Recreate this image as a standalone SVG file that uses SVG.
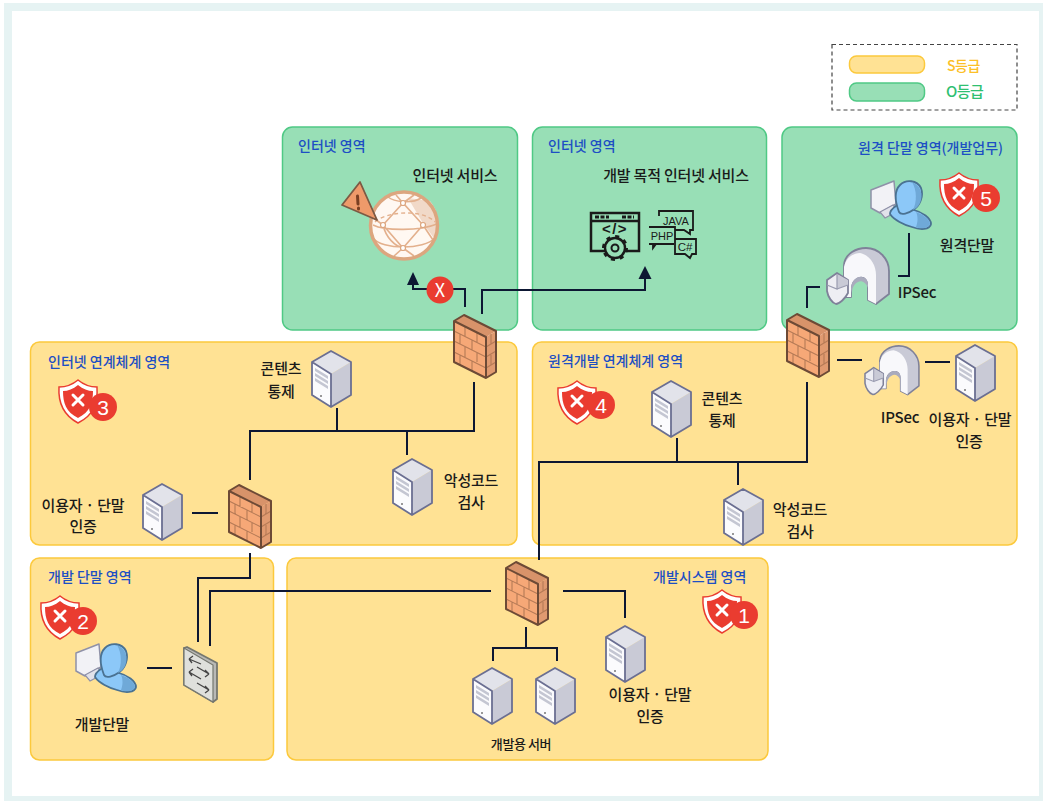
<svg xmlns="http://www.w3.org/2000/svg" width="1043" height="801" viewBox="0 0 1043 801">
<style>
text{font-family:"Noto Sans CJK KR","Noto Sans",sans-serif}
.g{fill:#98dfb6;stroke:#4fc985;stroke-width:1.5}
.y{fill:#ffe294;stroke:#fcc93c;stroke-width:1.5}
.t{font-size:14px;fill:#1d4fc4;font-weight:500;letter-spacing:0}
.l{font-size:15px;fill:#1a1a1a;font-weight:500;letter-spacing:-.2px;text-anchor:middle}
.c{fill:none;stroke:#0d1733;stroke-width:2}
.a{fill:#0d1733}
.b{fill:#ea3c30}
.n{font-size:21px;fill:#fff;text-anchor:middle;font-family:"Liberation Sans",sans-serif}
.k{fill:none;stroke:#1a1a1a;stroke-width:1.8}
.m{font-size:10.500px;fill:#1a1a1a;font-weight:500;text-anchor:middle;font-family:"Liberation Sans",sans-serif}
</style>
<defs>
<symbol id="fw" viewBox="0 0 44 66" width="44" height="66" overflow="visible">
<path d="M1 7L11 1L43 17L33 23Z" fill="#d8936a"/>
<path d="M1 7L33 23V64L1 48Z" fill="#f6a877"/>
<path d="M33 23L43 17V58L33 64Z" fill="#e09a70"/>
<path d="M1 17L33 33M1 27L33 43M1 38L33 54M33 33L43 27M33 43L43 37M33 54L43 48M12 13V23M24 19V28M7 20V30M19 26V36M12 33V43M24 39V48M7 41V51M19 47V57M38 20V30M38 41V51" fill="none" stroke="#b57a56" stroke-width="1.100"/>
<path d="M1 7L11 1L43 17V58L33 64L1 48ZM1 7L33 23V64" fill="none" stroke="#6d4a36" stroke-width="2" stroke-linejoin="round"/>
</symbol>
<symbol id="sv" viewBox="0 0 41 58" width="41" height="58" overflow="visible">
<path d="M1 12L20 1L40 12L20 24Z" fill="#e2e3ea"/>
<path d="M1 12L20 24V57L1 45Z" fill="#fbfbfd"/>
<path d="M20 24L40 12V45L20 57Z" fill="#c9cad6"/>
<path d="M1 12L20 1L40 12V45L20 57L1 45ZM1 12L20 24V57" fill="none" stroke="#6b6f92" stroke-width="1.800" stroke-linejoin="round"/>
<path d="M4 18L17 26V29L4 21ZM4 23L17 31V34L4 26ZM4 28L17 36V39L4 31Z" fill="#c4c6d2"/>
<circle cx="10" cy="46" r="1" fill="#777"/>
</symbol>
<symbol id="pc" viewBox="0 0 62 50" width="62" height="50" overflow="visible">
<path d="M1 10L24 1L26 24L10 33L1 28Z" fill="#f2f2f6" stroke="#8f91a8" stroke-width="1.500" stroke-linejoin="round"/>
<path d="M10 32L23 25L28 31L15 38Z" fill="#e1e2ea" stroke="#8f91a8" stroke-width="1.200"/>
<path d="M26 26C30 22 38 28 44 30C52 32 61 38 61 44C60 50 50 50 42 47C34 45 24 40 20 34C20 30 23 28 26 26Z" fill="#8cc8f8" stroke="#4a7292" stroke-width="1.800"/>
<path d="M46 32C52 34 60 39 60 44C58 49 50 49 46 47C48 42 48 36 46 32Z" fill="#6fa9d8"/>
<path d="M29 32C26 24 23 12 30 5C36 -1 47 0 51 8C54 16 50 26 43 30C39 33 31 36 29 32Z" fill="#8cc8f8" stroke="#4a7292" stroke-width="1.800"/>
<path d="M42 2C50 5 54 14 50 23C48 27 45 29 43 30C47 22 47 10 42 2Z" fill="#6fa9d8"/>
</symbol>
<symbol id="ip" viewBox="0 0 62 58" width="62" height="58" overflow="visible">
<path d="M17 50V18C18 6 30 1 39 1C52 1 62 12 62 24V47L49 57L41 53V38C41 32 37 29 33 30C27 31 24 36 24 42V50Z" fill="#c9cad6" stroke="#7f8199" stroke-width="1.800" stroke-linejoin="round"/>
<path d="M17 50V20C19 10 27 6 33 6C43 8 49 18 49 28V57L41 53V38C41 32 37 29 33 30C27 31 24 36 24 42V50Z" fill="#f8f8fb"/>
<path d="M24 42C24 34 30 29 35 30C40 31 41 35 41 38V41C39 35 34 33 31 35C27 37 25 41 25 46Z" fill="#a9abbd"/>
<path d="M0 33L10 26L21 33V46C18 52 12 57 9 57C5 56 1 50 0 44Z" fill="#eeeef3" stroke="#7f8199" stroke-width="1.800" stroke-linejoin="round"/>
<path d="M10 27L21 33V38L10 42Z" fill="#c9cad6"/>
<path d="M10 27V42L0 38M10 42L21 38" fill="none" stroke="#9a9cb0" stroke-width="1.200"/>
</symbol>
<symbol id="sh" viewBox="0 0 40 44" width="40" height="44" overflow="visible">
<path d="M20 1C26 6 33 8 39 8C40 24 36 36 20 44C5 36 0 24 1 8C8 8 14 6 20 1Z" fill="#fff" stroke="#ea3c30" stroke-width="1.500"/>
<path d="M20 6C25 10 30 12 35 12C35 24 32 33 20 39C8 33 5 24 5 12C10 12 15 10 20 6Z" fill="#ea3c30"/>
<path d="M15 16L25 26M25 16L15 26" stroke="#fff" stroke-width="3" stroke-linecap="round"/>
</symbol>
</defs>
<rect width="1043" height="801" fill="#fff"/>
<rect x="4" y="3" width="1039" height="798" fill="#e6f3f3"/>
<rect x="12" y="11" width="1027" height="785" fill="#fff"/>
<g id="legend">
<rect x="832" y="44.500" width="185" height="65.500" fill="#fff" stroke="#444" stroke-width="1.200" stroke-dasharray="4 3"/>
<rect class="y" x="849.500" y="56" width="75" height="17" rx="7"/>
<rect class="g" x="849.500" y="83" width="75" height="18" rx="7"/>
<text x="947" y="71" font-size="14" font-weight="500" fill="#fcc028" letter-spacing="-.5">S등급</text>
<text x="946" y="97" font-size="15" font-weight="500" fill="#2fc071" letter-spacing="-.5">O등급</text>
</g>
<g id="zones">
<g id="zone-internet-1"><rect class="g" x="282.500" y="127" width="235" height="203" rx="10"/><text class="t" x="298" y="151">인터넷 영역</text></g>
<g id="zone-internet-2"><rect class="g" x="532.500" y="127" width="234" height="203" rx="10"/><text class="t" x="548" y="151">인터넷 영역</text></g>
<g id="zone-remote"><rect class="g" x="782" y="127" width="235" height="203" rx="10"/><text class="t" x="858" y="153">원격 단말 영역(개발업무)</text></g>
<g id="zone-inet-link"><rect class="y" x="30.500" y="342" width="486.500" height="203" rx="9"/><text class="t" x="48" y="367">인터넷 연계체계 영역</text></g>
<g id="zone-remote-link"><rect class="y" x="532.500" y="342" width="484.500" height="203" rx="9"/><text class="t" x="548" y="366">원격개발 연계체계 영역</text></g>
<g id="zone-dev-terminal"><rect class="y" x="30.500" y="558" width="243" height="202" rx="9"/><text class="t" x="48" y="582">개발 단말 영역</text></g>
<g id="zone-dev-system"><rect class="y" x="287" y="558" width="481" height="202" rx="9"/><text class="t" x="653" y="582">개발시스템 영역</text></g>
</g>
<g id="connectors">
<path class="c" d="M465 307V289H413V284"/>
<path class="a" d="M413 272L419 285H407Z"/>
<path class="c" d="M482 314V290H645V277"/>
<path class="a" d="M645 266L651.500 279H638.500Z"/>
<path class="c" d="M807 308V287H820"/>
<path class="c" d="M909 233V276H898"/>
<path class="c" d="M837 360H862M925 362H950"/>
<path class="c" d="M807 382V462H539V560M677 438V462M738 462V485"/>
<path class="c" d="M250 480V431H474V382M337 408V431M407 431V455"/>
<path class="c" d="M192 513H218"/>
<path class="c" d="M250 553V578H198V642"/>
<path class="c" d="M210 646V591H491"/>
<path class="c" d="M147 668H172"/>
<path class="c" d="M563 591H625V618"/>
<path class="c" d="M526 627V648M493 661V648H557V661"/>
</g>
<g id="blocked-mark"><circle class="b" cx="440" cy="290" r="13.500"/><text x="440" y="296.500" font-size="18" fill="#fff" text-anchor="middle" font-family="Liberation Sans, sans-serif">X</text></g>
<g id="internet-service">
<circle cx="404" cy="225.500" r="33.500" fill="#fff8f2"/>
<path d="M408 198L430 201C436 208 438 216 438 226C438 232 436 236 434 238L424 225Z" fill="#f1d9c8"/>
<path d="M373 225C385 231 420 231 437 224M383 225L403 203L423 225L403 248ZM388 197C394 202 412 204 421 198M383 225C386 238 395 246 403 248M373 238C382 250 424 250 435 238M383 225L372 217M403 203L396 195M403 203L414 195M403 248L394 256M403 248L414 256M423 225L433 240" fill="none" stroke="#e3b08d" stroke-width="1.600"/>
<path d="M375 222C385 212 422 208 435 222" fill="none" stroke="#e3b08d" stroke-width="1.400" stroke-dasharray="4 3"/>
<circle cx="404" cy="225.500" r="33.500" fill="none" stroke="#dca67f" stroke-width="3.500"/>
<g fill="#fff" stroke="#dca67f" stroke-width="1.200"><circle cx="403" cy="203" r="2.500"/><circle cx="383" cy="225" r="2.500"/><circle cx="423" cy="225" r="2.500"/><circle cx="403" cy="248" r="2.500"/></g>
<path d="M360 182L342 205L377 220Z" fill="#ef9a6a" stroke="#7d5a44" stroke-width="1.800" stroke-linejoin="round"/>
<path d="M357.500 196L358 204M358.500 208V209" stroke="#7a3f22" stroke-width="3" stroke-linecap="round"/>
<text class="l" x="455" y="181">인터넷 서비스</text>
</g>
<g id="dev-internet-service">
<text class="l" x="676" y="181">개발 목적 인터넷 서비스</text>
<path d="M591 213H639V251H591Z" fill="none" stroke="#1a1a1a" stroke-width="2.500"/>
<path d="M591 221H639" stroke="#1a1a1a" stroke-width="2.500"/>
<path d="M595 217H609M622 217H634" stroke="#1a1a1a" stroke-width="3" stroke-dasharray="4 1.500"/>
<text class="m" x="615" y="234" style="font-size:15px;font-weight:700;letter-spacing:1.500px">&lt;/&gt;</text>
<circle cx="615" cy="248" r="10" fill="#98dfb6" stroke="#1a1a1a" stroke-width="2.400"/>
<circle cx="615" cy="248" r="11.500" fill="none" stroke="#1a1a1a" stroke-width="3" stroke-dasharray="4 5"/>
<circle cx="615" cy="248" r="3.500" fill="none" stroke="#1a1a1a" stroke-width="2"/>
<path class="k" d="M659 216V211H693V230H690V234L684 230H675" stroke-width="1.600"/>
<text class="m" x="676" y="225" style="font-size:11px">JAVA</text>
<path class="k" d="M649 227H675V238M674 244H656L653 248V244H649Z" stroke-width="1.600"/>
<text class="m" x="662" y="240" style="font-size:11px">PHP</text>
<path class="k" d="M675 239H696V254H692L690 258L685 254H675Z" stroke-width="1.600"/>
<text class="m" x="685" y="251" style="font-size:11.500px">C#</text>
</g>
<g id="fw-internet"><use href="#fw" x="453" y="314"/></g>
<g id="fw-remote"><use href="#fw" x="786" y="313"/></g>
<g id="fw-inet-link"><use href="#fw" x="228" y="484"/></g>
<g id="fw-dev"><use href="#fw" x="505" y="561"/></g>
<g id="remote-terminal"><use href="#pc" x="870" y="180"/><text class="l" x="967" y="251">원격단말</text></g>
<g id="ipsec-1"><use href="#ip" x="827" y="247"/><text class="l" x="917" y="298">IPSec</text></g>
<g id="ipsec-2"><g transform="translate(865 345) scale(.87)"><use href="#ip"/></g><text class="l" x="900" y="423">IPSec</text></g>
<g id="auth-remote"><use href="#sv" x="955" y="344"/><text class="l" x="970" y="425">이용자 · 단말</text><text class="l" x="969" y="447">인증</text></g>
<g id="content-left"><use href="#sv" x="311" y="350"/><text class="l" x="281" y="374">콘텐츠</text><text class="l" x="281" y="397">통제</text></g>
<g id="malware-left"><use href="#sv" x="392" y="458"/><text class="l" x="471" y="486">악성코드</text><text class="l" x="471" y="508">검사</text></g>
<g id="auth-left"><use href="#sv" x="142" y="483"/><text class="l" x="83" y="511">이용자 · 단말</text><text class="l" x="83" y="532">인증</text></g>
<g id="content-right"><use href="#sv" x="651" y="380"/><text class="l" x="722" y="404">콘텐츠</text><text class="l" x="722" y="426">통제</text></g>
<g id="malware-right"><use href="#sv" x="723" y="488"/><text class="l" x="800" y="515">악성코드</text><text class="l" x="800" y="537">검사</text></g>
<g id="dev-server-1"><use href="#sv" x="472" y="667"/></g>
<g id="dev-server-2"><use href="#sv" x="535" y="667"/></g>
<text class="l" x="521" y="749" style="font-size:13px;letter-spacing:-.4px">개발용 서버</text>
<g id="auth-dev"><use href="#sv" x="605" y="625"/><text class="l" x="650" y="700">이용자 · 단말</text><text class="l" x="650" y="722">인증</text></g>
<g id="dev-terminal"><use href="#pc" x="75" y="643"/><text class="l" x="102" y="730">개발단말</text></g>
<g id="switch">
<path d="M184 648L187 647L217 663V699L213 702L184 685Z" fill="#b9b9b6" stroke="#75776f" stroke-width="1.800" stroke-linejoin="round"/>
<path d="M184 648L213 665V702L184 685Z" fill="#dfe0dc" stroke="#75776f" stroke-width="1.200"/>
<path d="M201 664L189 659M189 659L193 656M189 659L192 663M197 667L209 674M209 674L205 670M209 674L205 677M201 679L189 672M189 672L193 669M189 672L192 676M197 683L209 690M209 690L205 686M209 690L205 693" fill="none" stroke="#444" stroke-width="1.300"/>
</g>
<g id="badge-1"><use href="#sh" x="702" y="589"/><circle class="b" cx="744" cy="615" r="14"/><text class="n" x="744" y="622.500">1</text></g>
<g id="badge-2"><use href="#sh" x="40" y="595"/><circle class="b" cx="83" cy="621" r="14"/><text class="n" x="83" y="628.500">2</text></g>
<g id="badge-3"><use href="#sh" x="58" y="379"/><circle class="b" cx="103" cy="407" r="14"/><text class="n" x="103" y="414.500">3</text></g>
<g id="badge-4"><use href="#sh" x="557" y="380"/><circle class="b" cx="601" cy="405" r="14"/><text class="n" x="601" y="412.500">4</text></g>
<g id="badge-5"><use href="#sh" x="939" y="172"/><circle class="b" cx="986" cy="198" r="14"/><text class="n" x="986" y="205.500">5</text></g>
</svg>
